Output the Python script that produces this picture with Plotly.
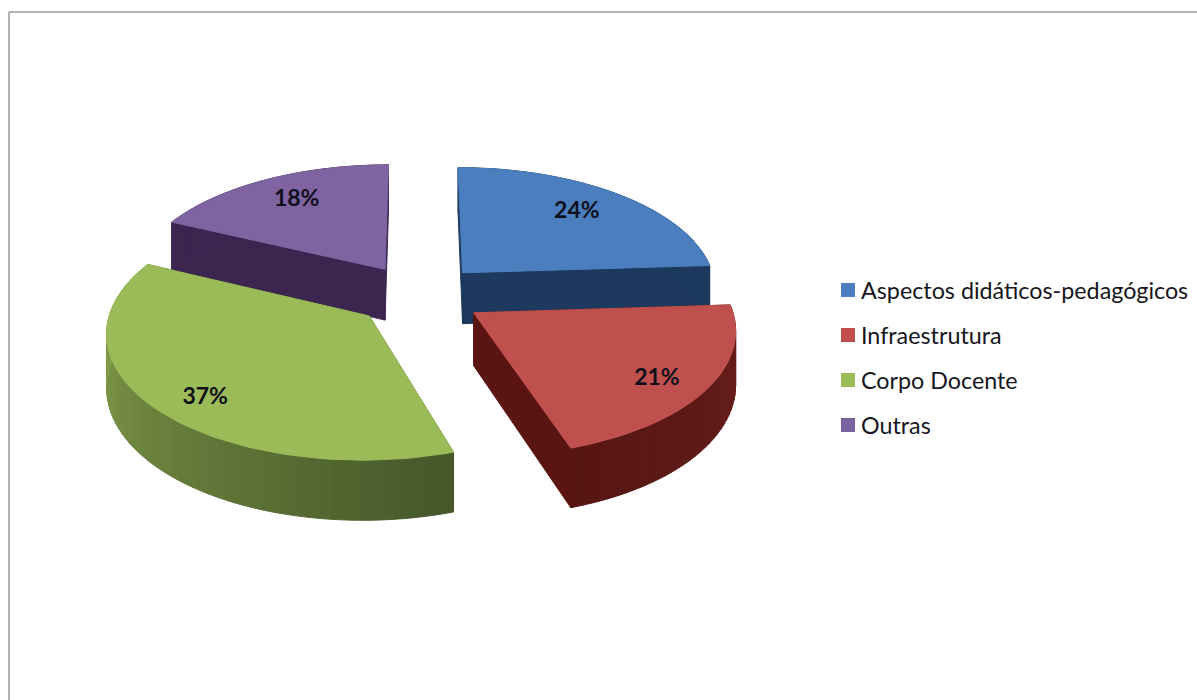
import math
import plotly.graph_objects as go

# Chart data
categories = ["Aspectos didáticos-pedagógicos", "Infraestrutura", "Corpo Docente", "Outras"]
percentages = [24, 21, 37, 18]

# Colours per slice: top face, radial wall, outer wall light end, outer wall dark end
top_colors = ["#4a7ebf", "#c0504d", "#9bbb59", "#8064a2"]
radial_colors = ["#1d3a5e", "#5a1513", "#4d5f2b", "#3c2650"]
wall_light = ["#1d3a5e", "#6a1f1c", "#8fab50", "#3c2650"]
wall_dark = ["#1d3a5e", "#561614", "#46572a", "#3c2650"]
legend_colors = ["#4a7ebf", "#c0504d", "#9bbb59", "#7a64a0"]

# Disc geometry and perspective
RADIUS = 255
PULL = 65
DEPTH = 52
CENTER_X, CENTER_Y = 419, 295
HORIZON_Y = -759
VIEW_DIST = 2200
# Label placement along each slice: share of the radius, turn from the mid-angle
LABEL_FRACTIONS = [0.74, 0.82, 0.83, 0.75]
LABEL_TURNS = [-1, 3, -5, 1]
ARC_STEP_DEG = 2


def project(u, v, drop=0.0):
    """Map a disc point (u right, v toward the viewer) to page pixels."""
    k = 1.0 / (1.0 - v / VIEW_DIST)
    return CENTER_X + u * k, HORIZON_Y + (CENTER_Y - HORIZON_Y) * k + drop * k


def disc_point(angle, ox, oy, r=RADIUS):
    rad = math.radians(angle)
    return ox + r * math.sin(rad), oy - r * math.cos(rad)


def polygon(points, color):
    return go.Scatter(
        x=[p[0] for p in points] + [points[0][0]],
        y=[p[1] for p in points] + [points[0][1]],
        mode="lines",
        fill="toself",
        fillcolor=color,
        line=dict(color=color, width=1),
        hoverinfo="skip",
        showlegend=False,
    )


def mix(c1, c2, t):
    a = [int(c1[i:i + 2], 16) for i in (1, 3, 5)]
    b = [int(c2[i:i + 2], 16) for i in (1, 3, 5)]
    return "#" + "".join(f"{round(x + (y - x) * t):02x}" for x, y in zip(a, b))


# Angular span of every slice, clockwise from twelve o'clock
total = sum(percentages)
spans = []
start = 0.0
for pct in percentages:
    sweep = 360.0 * pct / total
    spans.append((start, start + sweep))
    start += sweep

fig = go.Figure()
labels = []

# Back slices first so the nearer ones cover them
for idx in (3, 0, 2, 1):
    a0, a1 = spans[idx]
    mid = (a0 + a1) / 2
    ox, oy = disc_point(mid, 0, 0, PULL)
    n = max(2, int((a1 - a0) / ARC_STEP_DEG))
    angles = [a0 + (a1 - a0) * i / n for i in range(n + 1)]
    rim = [disc_point(a, ox, oy) for a in angles]

    # Radial walls
    for a in (a0, a1):
        e = disc_point(a, ox, oy)
        fig.add_trace(polygon([
            project(ox, oy), project(*e),
            project(*e, drop=DEPTH), project(ox, oy, drop=DEPTH),
        ], radial_colors[idx]))

    # Outer wall, shaded along the arc
    for i in range(n):
        # the far left of the green wall catches the most light
        t = i / (n - 1) if n > 1 else 0
        t = 1 - t if idx == 2 else t
        fig.add_trace(polygon([
            project(*rim[i]), project(*rim[i + 1]),
            project(*rim[i + 1], drop=DEPTH), project(*rim[i], drop=DEPTH),
        ], mix(wall_light[idx], wall_dark[idx], t)))

    # Top face
    fig.add_trace(polygon([project(ox, oy)] + [project(*p) for p in rim], top_colors[idx]))
    labels.append((idx, project(*disc_point(mid + LABEL_TURNS[idx], ox, oy,
                                            RADIUS * LABEL_FRACTIONS[idx]))))

# Percentage labels
labels.sort()
fig.add_trace(go.Scatter(
    x=[p[1][0] for p in labels],
    y=[p[1][1] for p in labels],
    mode="text",
    text=[f"{percentages[p[0]]}%" for p in labels],
    textposition="middle center",
    textfont=dict(family="Lato", size=23, color="#10101c", weight="bold"),
    hoverinfo="skip",
    showlegend=False,
))

# Key on the right
KEY_X = 848
KEY_Y = 290
KEY_ROW = 45
fig.add_trace(go.Scatter(
    x=[KEY_X] * len(categories),
    y=[KEY_Y + KEY_ROW * i for i in range(len(categories))],
    mode="markers",
    marker=dict(symbol="square", size=14, color=legend_colors),
    hoverinfo="skip",
    showlegend=False,
))
for i, name in enumerate(categories):
    fig.add_annotation(
        x=KEY_X + 11, y=KEY_Y + KEY_ROW * i, text=name, showarrow=False,
        xanchor="left", yanchor="middle", xref="x", yref="y",
        font=dict(family="Lato", size=23.3, color="#16161c"),
    )

fig.update_layout(
    width=1197,
    height=700,
    margin=dict(l=0, r=0, t=0, b=0),
    paper_bgcolor="white",
    plot_bgcolor="white",
    showlegend=False,
    xaxis=dict(range=[0, 1197], visible=False, fixedrange=True),
    yaxis=dict(range=[700, 0], visible=False, fixedrange=True),
    shapes=[
        dict(type="line", xref="x", yref="y", x0=9, x1=1197, y0=12, y1=12,
             line=dict(color="#9a9a9a", width=1.5)),
        dict(type="line", xref="x", yref="y", x0=9, x1=9, y0=12, y1=700,
             line=dict(color="#9a9a9a", width=1.5)),
    ],
)

fig.write_html("out.html")
